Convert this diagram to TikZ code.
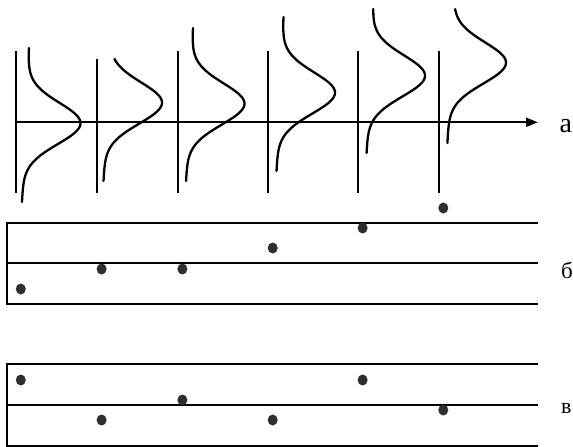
\documentclass[tikz,border=0pt]{standalone}
\usepackage{fontspec}
\setmainfont{Liberation Serif}
\usetikzlibrary{arrows.meta,shapes.geometric}
\newcommand\bellcurve[4]{% #1 mu, #2 peak x, #3 ytop, #4 ybot
  \draw[bell] plot[domain=#3:#4, samples=90, smooth, variable=\t]
    ({#2-55-0.045*(\t-#1)+55*exp(-0.5*((\t-#1)/20.5)*((\t-#1)/20.5))}, {\t});
}
\begin{document}
\begin{tikzpicture}[x=1pt,y=-1pt,
  axisline/.style={line width=1.9pt},
  vline/.style={line width=1.8pt},
  bell/.style={line width=2.3pt, line cap=round},
  panelline/.style={line width=2pt, line join=miter},
  dot/.style={ellipse,fill=black!82,inner sep=0pt,minimum width=10pt,minimum height=11pt},
  lbl/.style={anchor=base west,inner sep=0pt}]
\useasboundingbox (0,0) rectangle (573,447);
\fill[white] (0,0) rectangle (573,447);

% vertical lines
\draw[vline] (16,51) -- (16,193);
\draw[vline] (97,59) -- (97,193);
\draw[vline] (178,51) -- (178,193);
\draw[vline] (268,51) -- (268,193);
\draw[vline] (358,51) -- (358,193);
\draw[vline] (439,51) -- (439,193);

% axis
\coordinate (ax0) at (16,122.3);
\coordinate (ax1) at (538,122.3);
\draw[axisline,-{Triangle[length=12pt,width=9pt]}] (ax0) -- (ax1);
\node[lbl,font=\fontsize{28}{28}\selectfont] (la) at (559.5,132) {а};

% bell curves
\bellcurve{123.5}{80.5}{48}{202}
\bellcurve{103}{162}{59}{181}
\bellcurve{104}{244.5}{28}{181}
\bellcurve{93}{335}{17}{171}
\bellcurve{76}{425}{9}{153}
\bellcurve{63}{506}{9}{143}

% panel b
\draw[panelline] (538,223) -- (7,223) -- (7,304) -- (538,304);
\draw[panelline] (7,263) -- (538,263);
\node[lbl,font=\fontsize{23}{23}\selectfont] (lb) at (561,278) {б};
\node[dot] (b1) at (20.8,289) {};
\node[dot] (b2) at (101.6,269) {};
\node[dot] (b3) at (182.4,269) {};
\node[dot] (b4) at (272.7,248) {};
\node[dot] (b5) at (362.6,228) {};
\node[dot] (b6) at (443.3,208) {};

% panel v
\draw[panelline] (538,364) -- (7,364) -- (7,446) -- (538,446);
\draw[panelline] (7,405) -- (538,405);
\node[lbl,font=\fontsize{22}{22}\selectfont] (lv) at (561,413) {в};
\node[dot] (v1) at (20.8,380) {};
\node[dot] (v2) at (101.6,420) {};
\node[dot] (v3) at (182.4,400) {};
\node[dot] (v4) at (272.7,420) {};
\node[dot] (v5) at (362.6,380) {};
\node[dot] (v6) at (443.3,410) {};
\end{tikzpicture}
\end{document}
